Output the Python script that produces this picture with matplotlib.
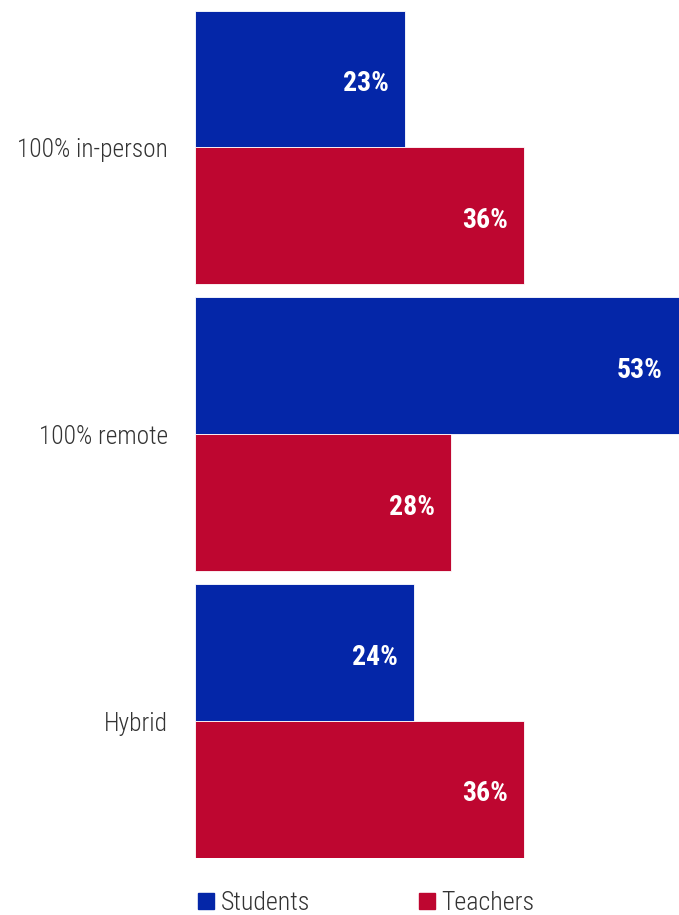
import matplotlib
matplotlib.use("Agg")
import matplotlib.pyplot as plt
from matplotlib import font_manager
import numpy as np

categories = ["100% in-person", "100% remote", "Hybrid"]
students = [23, 53, 24]
teachers = [36, 28, 36]
series_names = ["Students", "Teachers"]
colors = ["#0426A8", "#BE0630"]

names = {f.name for f in font_manager.fontManager.ttflist}
family = "Roboto Condensed" if "Roboto Condensed" in names else "Roboto"
plt.rcParams["font.family"] = [family, "DejaVu Sans"]

fig = plt.figure(figsize=(6.79, 9.15), dpi=100)
ax = fig.add_axes([195 / 679, 1 - 858 / 915, 1 - 195 / 679, (858 - 10) / 915])

y = np.arange(len(categories))
h = 0.477
for vals, off, col in [(students, -h / 2, colors[0]), (teachers, h / 2, colors[1])]:
    bars = ax.barh(y + off, vals, height=h, color=col, edgecolor="white", linewidth=0.6)
    for b, v in zip(bars, vals):
        ax.text(v - 1.75, b.get_y() + b.get_height() / 2 + 0.015, f"{v}%", ha="right", va="center",
                color="white", fontsize=20, fontweight="bold")

ax.set_xlim(0, 53)
ax.set_ylim(2.477, -0.479)
ax.set_yticks(y)
ax.set_yticklabels(categories, fontsize=18.3, color="#333333", fontweight="light")
ax.tick_params(axis="y", length=0, pad=19.5)
ax.set_xticks([])
for s in ax.spines.values():
    s.set_visible(False)

# legend
handles = [plt.Rectangle((0, 0), 1, 1, color=c) for c in colors]
leg = fig.legend(handles, series_names, loc="center left", bbox_to_anchor=(188 / 679, 1 - 903 / 915),
                 ncol=2, frameon=False, handlelength=0.62, handleheight=0.62,
                 handletextpad=0.25, columnspacing=4.2, borderaxespad=0,
                 prop={"size": 18.6, "weight": "light"}, labelcolor="#333333")

fig.savefig("out.png", dpi=100)
